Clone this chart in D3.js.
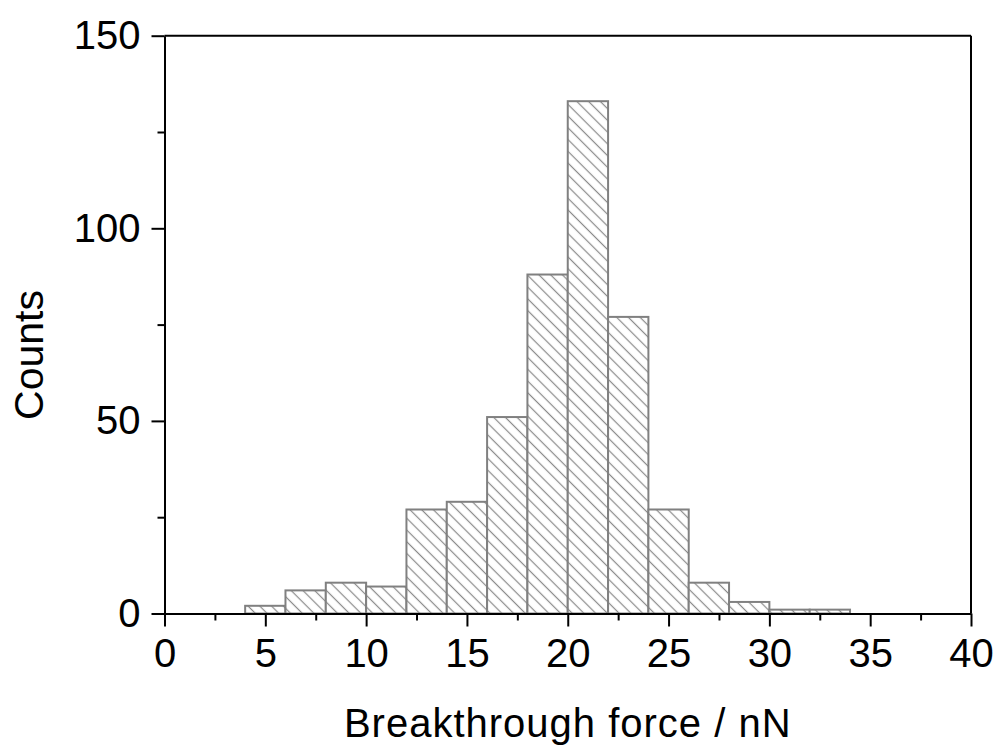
<!DOCTYPE html>
<html>
<head>
<meta charset="utf-8">
<script src="https://cdn.jsdelivr.net/npm/d3@7"></script>
<style>
  html, body { margin: 0; padding: 0; background: #fff; }
  svg { display: block; }
  text { font-family: "Liberation Sans", Arial, sans-serif; fill: #000; }
</style>
</head>
<body>
<svg id="chart" width="999" height="747"></svg>
<script>
// Histogram of breakthrough forces, 2 nN bins
const binStarts = [4, 6, 8, 10, 12, 14, 16, 18, 20, 22, 24, 26, 28, 30, 32];
const counts    = [2, 6, 8, 7, 27, 29, 51, 88, 133, 77, 27, 8, 3, 1, 1];
const binWidth = 2;
const xTicks = [0, 5, 10, 15, 20, 25, 30, 35, 40];
const xMinorTicks = [2.5, 7.5, 12.5, 17.5, 22.5, 27.5, 32.5, 37.5];
const yTicks = [0, 50, 100, 150];
const yMinorTicks = [25, 75, 125];
const xTitle = "Breakthrough force / nN";
const yTitle = "Counts";

const svg = d3.select("#chart");
const plotLeft = 164.5, plotRight = 971, plotTop = 35.7, plotBottom = 613.5;

const x = d3.scaleLinear().domain([0, 40]).range([plotLeft, plotRight]);
const y = d3.scaleLinear().domain([0, 150]).range([plotBottom, plotTop]);

// diagonal hatch fill
const defs = svg.append("defs");
const pat = defs.append("pattern")
  .attr("id", "hatch")
  .attr("patternUnits", "userSpaceOnUse")
  .attr("width", 8.3).attr("height", 8.3)
  .attr("patternTransform", "rotate(45)");
pat.append("rect").attr("width", 8.3).attr("height", 8.3).attr("fill", "#fff");
pat.append("line")
  .attr("x1", 0).attr("x2", 8.3)
  .attr("y1", 4.15).attr("y2", 4.15)
  .attr("stroke", "#8a8a8a").attr("stroke-width", 1.2);

// bars
svg.append("g").selectAll("rect")
  .data(binStarts.map((s, i) => ({ s, c: counts[i] })))
  .join("rect")
  .attr("x", d => x(d.s))
  .attr("y", d => y(d.c))
  .attr("width", d => x(d.s + binWidth) - x(d.s))
  .attr("height", d => y(0) - y(d.c))
  .attr("fill", "url(#hatch)")
  .attr("stroke", "#808080")
  .attr("stroke-width", 2);

// frame: top and right edges
svg.append("line").attr("x1", plotLeft).attr("x2", plotRight).attr("y1", plotTop).attr("y2", plotTop)
  .attr("stroke", "#000").attr("stroke-width", 2);
svg.append("line").attr("x1", plotRight).attr("x2", plotRight).attr("y1", plotTop).attr("y2", plotBottom)
  .attr("stroke", "#000").attr("stroke-width", 2);

// bottom axis
svg.append("g").attr("transform", `translate(0,${plotBottom})`)
  .call(d3.axisBottom(x).tickValues(xTicks).tickSize(13).tickSizeOuter(0).tickPadding(12).tickFormat(d3.format("d")));
svg.append("g").attr("transform", `translate(0,${plotBottom})`)
  .call(d3.axisBottom(x).tickValues(xMinorTicks).tickSize(7).tickSizeOuter(0).tickFormat(""))
  .call(g => g.select(".domain").remove());

// left axis
svg.append("g").attr("transform", `translate(${plotLeft},0)`)
  .call(d3.axisLeft(y).tickValues(yTicks).tickSize(13).tickSizeOuter(0).tickPadding(11).tickFormat(d3.format("d")));
svg.append("g").attr("transform", `translate(${plotLeft},0)`)
  .call(d3.axisLeft(y).tickValues(yMinorTicks).tickSize(7).tickSizeOuter(0).tickFormat(""))
  .call(g => g.select(".domain").remove());

svg.selectAll(".domain").attr("stroke", "#000").attr("stroke-width", 2);
svg.selectAll(".tick line").attr("stroke", "#000").attr("stroke-width", 2);
svg.selectAll(".tick text")
  .attr("font-family", "'Liberation Sans', Arial, sans-serif")
  .attr("font-size", 40).attr("fill", "#000");

// axis titles
svg.append("text")
  .attr("x", (plotLeft + plotRight) / 2).attr("y", 737)
  .attr("text-anchor", "middle")
  .attr("font-size", 40)
  .attr("letter-spacing", 1)
  .text(xTitle);

svg.append("text")
  .attr("transform", `translate(43,355) rotate(-90)`)
  .attr("text-anchor", "middle")
  .attr("font-size", 41)
  .text(yTitle);
</script>
</body>
</html>
